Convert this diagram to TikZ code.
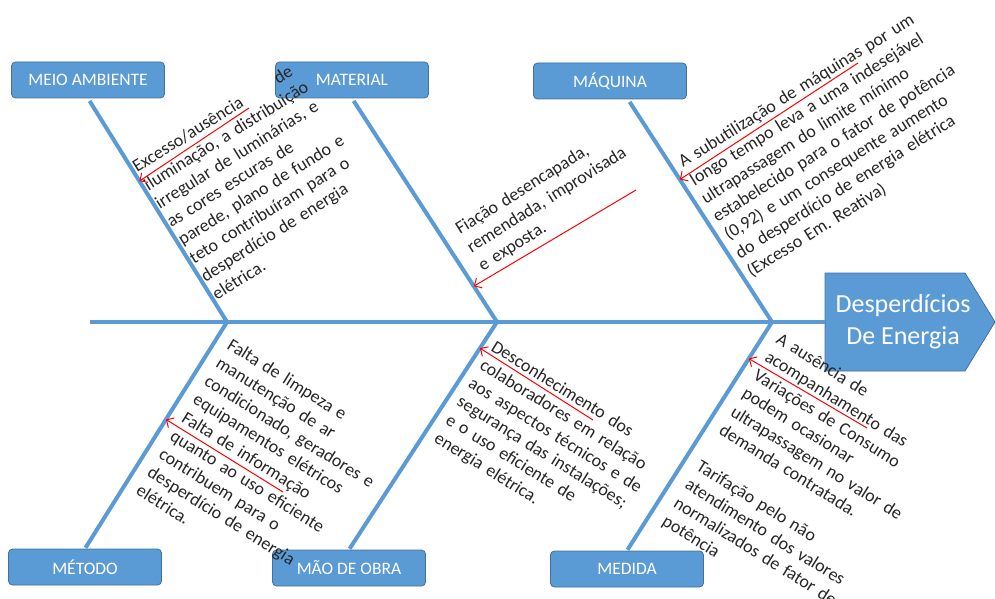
\documentclass[tikz,border=0pt]{standalone}
\usepackage{fontspec}
\setmainfont{Carlito}
\usetikzlibrary{arrows.meta}
\definecolor{bblue}{HTML}{5B9BD5}
\definecolor{bline}{HTML}{41719C}
\definecolor{txt}{HTML}{262626}
\tikzstyle{block} = [draw=bline, fill=bblue, rounded corners=4pt, minimum height=36pt, minimum width=153pt, text=white, line width=0.8pt, font={\fontsize{17.5pt}{19pt}\selectfont}]
\tikzstyle{bone} = [draw=bblue, line width=4pt]
\tikzstyle{cause} = [text=txt, inner sep=0pt, text width=400pt, align=left, anchor=base west, font={\fontsize{18pt}{21.5pt}\selectfont}]
\tikzstyle{hint} = [->, draw=red, line width=1pt]
\frenchspacing

\begin{document}
\begin{tikzpicture}[x=1pt, y=-1pt, >={Straight Barb[length=2mm]}]
    \useasboundingbox (0,0) rectangle (995,599);
    \node [block] (amb) at (88,80) {MEIO AMBIENTE};
    \node [block] (mat) at (352,80) {MATERIAL};
    \node [block] (maq) at (610,81) {MÁQUINA};
    \node [block] (met) at (85,567) {MÉTODO};
    \node [block] (mao) at (349,568) {MÃO DE OBRA};
    \node [block] (med) at (627,569) {MEDIDA};

    % cabeca
    \path [fill=bblue, draw=bline, line width=0.8pt] (825,273) -- (965,273) -- (995,322) -- (965,371) -- (825,371) -- cycle;
    \node [minimum width=156pt, minimum height=98pt, inner sep=0pt, text=white, align=center, font={\fontsize{26pt}{32pt}\selectfont}] (efe) at (903,322) {Desperdícios\\ De Energia};

    \coordinate (tail) at (90,322);
    \coordinate (j1) at (227,322);
    \coordinate (j2) at (497,322);
    \coordinate (j3) at (772,322);
    \draw [bone] (tail) -- (efe);

    % espinhas
    \draw [bone, shorten <=3pt] (amb.south) -- coordinate[pos=0.37] (p1) (j1);
    \draw [bone, shorten <=3pt] (mat.south) -- coordinate[pos=0.84] (p2) (j2);
    \draw [bone, shorten <=3pt] ([xshift=18pt]maq.south) -- coordinate[pos=0.36] (p3) (j3);
    \draw [bone, shorten >=1pt] (j1) -- coordinate[pos=0.43] (p4) (met.north);
    \draw [bone, shorten >=1pt] (j2) -- coordinate[pos=0.115] (p5) (mao.north);
    \draw [bone, shorten >=1pt] (j3) -- coordinate[pos=0.16] (p6) (med.north);

    \node [cause, rotate=32] (c1) at (137,173) {\makebox[185pt][l]{Excesso/ausência\hfill de}\\ iluminação, a distribuição\\ irregular de luminárias, e\\ as cores escuras de\\ parede, plano de fundo e\\ teto contribuíram para o\\ desperdício de energia\\ elétrica.};
    \node [cause, rotate=32] (c2) at (460,235) {Fiação desencapada,\\ remendada, improvisada\\ e exposta.};
    \node [cause, rotate=32] (c3) at (683,168) {A subutilização de máquinas por um\\ longo tempo leva a uma indesejável\\ ultrapassagem do limite mínimo\\ estabelecido para o fator de potência\\ (0,92) e um consequente aumento\\ do desperdício de energia elétrica\\ (Excesso Em. Reativa)};
    \node [cause, rotate=-32] (c4) at (226,348) {Falta de limpeza e\\ manutenção de ar\\ condicionado, geradores e\\ equipamentos elétricos\\ Falta de informação\\ quanto ao uso eficiente\\ contribuem para o\\ desperdício de energia\\ elétrica.};
    \node [cause, rotate=-32] (c5) at (490,350) {Desconhecimento dos\\ colaboradores em relação\\ aos aspectos técnicos e de\\ segurança das instalações;\\ e o uso eficiente de\\ energia elétrica.};
    \node [cause, rotate=-32] (c6) at (775,342) {A ausência de\\ acompanhamento das\\ Variações de Consumo\\ podem ocasionar\\ ultrapassagem no valor de\\ demanda contratada.\\[21.5pt] Tarifação pelo não\\ atendimento dos valores\\ normalizados de fator de\\ potência};

    \coordinate (s1) at (249,108);
    \coordinate (s2) at (636,190);
    \coordinate (s3) at (858,63);
    \coordinate (s4) at (283,492);
    \coordinate (s5) at (593,420);
    \coordinate (s6) at (867,428);
    \draw [hint] (s1) -- (p1);
    \draw [hint] (s2) -- (p2);
    \draw [hint] (s3) -- (p3);
    \draw [hint] (s4) -- (p4);
    \draw [hint] (s5) -- (p5);
    \draw [hint] (s6) -- (p6);
\end{tikzpicture}
\end{document}
